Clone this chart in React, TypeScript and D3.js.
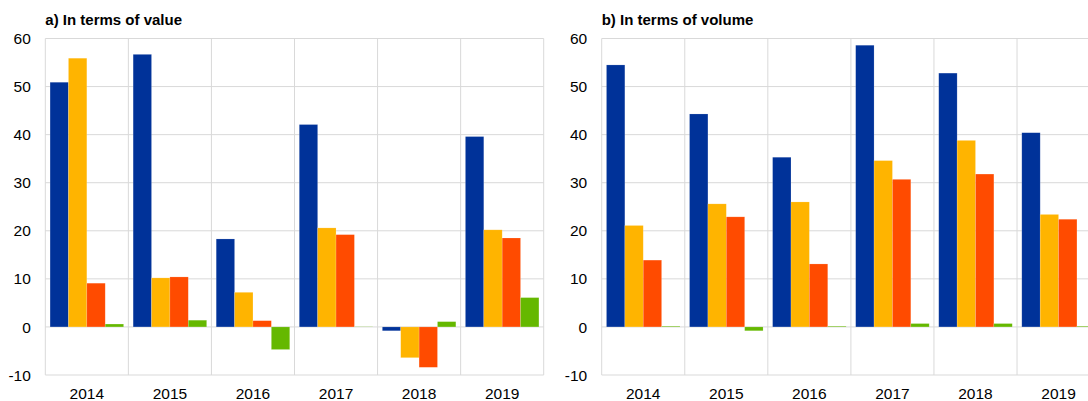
import * as d3 from 'd3';

const years = ['2014', '2015', '2016', '2017', '2018', '2019'];
const seriesKeys = ['s1', 's2', 's3', 's4'];
const colors = ['#003299', '#ffb400', '#ff4b00', '#65b800'];

// a) In terms of value
const valueS1 = [50.9, 56.7, 18.3, 42.1, -0.8, 39.6];
const valueS2 = [55.9, 10.2, 7.2, 20.6, -6.4, 20.2];
const valueS3 = [9.1, 10.4, 1.3, 19.2, -8.4, 18.5];
const valueS4 = [0.6, 1.4, -4.7, 0.05, 1.1, 6.1];

// b) In terms of volume
const volumeS1 = [54.5, 44.3, 35.3, 58.6, 52.8, 40.4];
const volumeS2 = [21.1, 25.6, 26.0, 34.6, 38.8, 23.4];
const volumeS3 = [13.9, 22.9, 13.1, 30.7, 31.8, 22.4];
const volumeS4 = [0.15, -0.8, 0.15, 0.7, 0.7, 0.15];

const yTicks = [-10, 0, 10, 20, 30, 40, 50, 60];

const font = 'Arial, "Liberation Sans", sans-serif';

const Panel = ({ title, series, left }) => {
  const width = 498.4;
  const x0 = d3.scaleBand().domain(years).range([left, left + width]).padding(0);
  const x1 = d3.scaleBand().domain(seriesKeys).range([0, x0.bandwidth()]).paddingInner(0).paddingOuter(0.26);
  const y = d3.scaleLinear().domain([-10, 60]).range([375, 38.5]);
  const grid = '#d9d9d9';

  return (
    <g>
      <text x={left} y={25} fontFamily={font} fontSize={15} fontWeight="bold" fill="#000">{title}</text>
      {yTicks.map(t => (
        <g key={t}>
          <line x1={left} x2={left + width} y1={y(t)} y2={y(t)} stroke={grid} strokeWidth={1} />
          <text x={left - 14.5} y={y(t)} dy="0.36em" textAnchor="end" fontFamily={font} fontSize={15.5} fill="#000">{t}</text>
        </g>
      ))}
      {years.map((yr, i) => (
        <line key={'v' + yr} x1={x0(yr)} x2={x0(yr)} y1={y(60)} y2={y(-10)} stroke={grid} strokeWidth={1} />
      ))}
      <line x1={left + width} x2={left + width} y1={y(60)} y2={y(-10)} stroke={grid} strokeWidth={1} />
      {years.map((yr, i) => (
        <g key={yr} transform={`translate(${x0(yr)},0)`}>
          {seriesKeys.map((k, j) => {
            const v = series[j][i];
            return (
              <rect key={k} x={x1(k)} width={x1.bandwidth()}
                y={y(Math.max(0, v))} height={Math.abs(y(v) - y(0))}
                fill={colors[j]} stroke="#fff" strokeOpacity={0.25} strokeWidth={0.6} />
            );
          })}
          <text x={x0.bandwidth() / 2} y={399} textAnchor="middle" fontFamily={font} fontSize={15.5} fill="#000">{yr}</text>
        </g>
      ))}
    </g>
  );
};

export default function App() {
  return (
    <svg width={1088} height={401} style={{ position: 'absolute', left: 0, top: 0, background: '#fff' }}>
      <Panel title="a) In terms of value" series={[valueS1, valueS2, valueS3, valueS4]} left={45.3} />
      <Panel title="b) In terms of volume" series={[volumeS1, volumeS2, volumeS3, volumeS4]} left={601.7} />
    </svg>
  );
}
